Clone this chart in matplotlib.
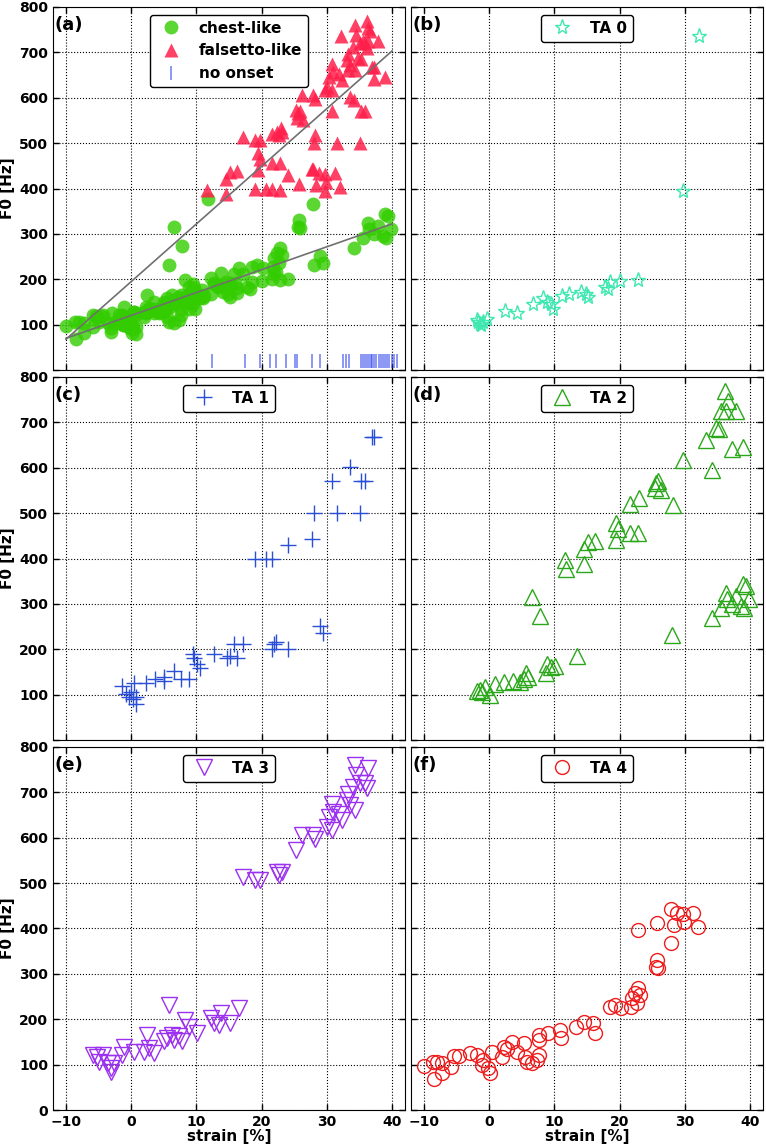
import numpy as np
import matplotlib.pyplot as plt

plt.rcParams['font.family'] = ['DejaVu Sans']
plt.rcParams['font.weight'] = 'bold'
plt.rcParams['axes.labelweight'] = 'bold'
plt.rcParams['font.size'] = 10

# ---- data: strain [%], F0 [Hz], register (c = chest-like, f = falsetto-like)
ta0_strain = [32.2, 29.7, -1.9, -1.4, -0.9, -0.4, -1.2, -1.7, 2.4, 4.3, 6.7, 8.3, 8.8,
              9.8, 9.5, 11.1, 12.3, 14.1, 14.9, 15.2, 17.7, 18.5, 18.2, 20.0, 22.8]
ta0_f0 = [736, 394, 110, 102, 106, 113, 99, 106, 130, 126, 146, 159, 150,
          135, 146, 164, 168, 172, 168, 161, 183, 194, 179, 197, 199]
ta0_reg = "ff" + "ccccccccccccccccccccccc"

ta1_strain = [-1.35, -0.8, -0.3, 0.2, -0.05, 0.7, 0.8, 0.4, 2.2, 3.7, 5.0, 5.0, 6.5, 7.6,
              8.8, 9.4, 9.6, 10.1, 10.5, 12.7, 14.7, 15.2, 15.7, 16.2, 17.1, 19.0, 20.6,
              21.6, 21.6, 21.9, 22.2, 24.0, 24.0, 27.7, 28.0, 28.9, 29.4, 30.8, 31.6, 33.5,
              35.1, 35.3, 35.8, 37.0, 37.3]
ta1_f0 = [119, 102, 95, 91, 106, 95, 80, 126, 126, 135, 139, 131, 153, 135,
          134, 189, 180, 168, 159, 189, 180, 186, 212, 180, 212, 399, 399,
          399, 201, 212, 215, 429, 201, 444, 501, 251, 236, 571, 501, 601,
          501, 571, 571, 667, 667]
ta1_reg = "ccccccccccccccccccccccccc" + "fff" + "ccc" + "f" + "c" + "ff" + "cc" + "ffffffff"

ta2_strain = [36.1, 36.6, 35.6, 36.3, 37.9, 34.8, 35.2, 33.2, 29.7, 37.3, 38.9, 34.2,
              25.6, 25.9, 25.5, 26.3, 28.2, 21.6, 22.9, 19.4, 19.7, 19.4, 21.6, 22.8,
              15.2, 16.2, 14.6, 11.6, 11.8, 14.6, 6.6, 7.8, 13.4, 10.1, 8.8, 8.7, 9.5,
              5.7, 5.4, 5.9, 4.7, 3.7, 2.2, 0.9, 0.05, -0.6, -1.4, -1.9, -1.1, 28.1,
              34.2, 35.6, 36.3, 37.3, 37.9, 38.6, 38.9, 39.4, 39.8, 39.1, 36.4]
ta2_f0 = [770, 746, 724, 726, 726, 687, 685, 662, 618, 641, 646, 595,
          567, 570, 556, 551, 517, 521, 534, 479, 464, 441, 456, 456,
          437, 439, 420, 397, 376, 387, 316, 274, 186, 164, 168, 148, 161,
          148, 135, 139, 128, 131, 128, 124, 99, 117, 111, 107, 106, 232,
          270, 292, 325, 300, 318, 296, 344, 340, 311, 292, 311]
ta2_reg = "ffffffffffffffffffffffffffff" + "c" + "f" + "ccccccccccccccccccccccccccccccc"

ta3_strain = [34.3, 34.5, 36.3, 34.0, 35.1, 35.8, 36.1, 33.3, 33.1, 33.5, 34.3, 30.8,
              31.0, 31.8, 32.4, 30.3, 30.0, 30.8, 26.2, 27.9, 28.2, 25.2, 22.4, 23.2,
              22.7, 17.2, 19.0, 19.8,
              5.8, 8.3, 8.8, 10.1, 12.2, 13.7, 13.4, 15.2, 16.5, 12.7, 2.4, -1.1, -1.4,
              0.4, 1.9, 3.5, 2.7, 5.0, 5.5, 6.3, 6.5, 7.3, 7.8, -5.9, -4.9, -4.4, -3.6,
              -3.1, -2.6, -5.2, -3.1]
ta3_f0 = [760, 738, 753, 712, 720, 720, 709, 697, 683, 672, 661, 675,
          657, 653, 639, 646, 624, 617, 606, 606, 598, 573, 525, 525,
          518, 514, 507, 507,
          231, 198, 184, 169, 202, 213, 187, 191, 224, 191, 165, 139, 121,
          128, 128, 125, 136, 151, 158, 165, 154, 162, 151, 121, 106, 121, 103,
          92, 103, 117, 84]
ta3_reg = "ffffffffffffffffffffffffffff" + "ccccccccccccccccccccccccccccccc"

ta4_strain = [27.9, 28.8, 29.7, 31.2, 32.1, 29.9, 28.4, 25.8, 22.8,
              27.9, 25.8, 25.6, 25.9, 22.8, 22.3, 23.1, 21.9, 22.6, 21.8, 18.6, 19.3,
              20.2, 14.5, 15.9, 16.2, 13.3, 10.9, 11.0, 9.0, 7.6, 7.6, 7.7, 7.3, 6.5,
              5.8, 5.5, 5.3, 4.2, 3.5, 2.7, 2.2, 1.9, 0.4, 0.05, -0.2, -1.1, -1.0,
              -1.9, -3.0, -4.7, -5.4, -5.9, -7.3, -7.3, -8.5, -8.7, -10.0, -8.0]
ta4_f0 = [442, 435, 433, 435, 404, 415, 407, 411, 396,
          367, 330, 316, 312, 268, 257, 253, 246, 235, 228, 228, 231,
          224, 195, 191, 169, 184, 176, 159, 169, 165, 154, 122, 110, 103,
          106, 117, 148, 128, 149, 135, 139, 117, 128, 81, 92, 99, 110,
          121, 126, 119, 119, 95, 81, 103, 68, 106, 97, 106]
ta4_reg = "fffffffff" + "ccccccccccccccccccccccccccccccccccccccccccccccccc"

no_onset_strain = [12.4, 17.5, 19.8, 21.3, 22.2, 23.7, 25.1, 25.5, 27.7, 29.0, 32.5, 32.9,
                   33.4, 35.2, 35.5, 35.8, 36.1, 36.4, 36.8, 37.0, 37.3, 37.6, 38.0,
                   38.3, 38.6, 39.0, 39.3, 39.6, 40.0, 40.3, 40.7]
no_onset_f0 = 20

# linear fits (slope, intercept)
fit_x = [-10, 40]
fit_chest = (5.04, 120.4)
fit_falsetto = (12.7, 195.0)

ta_names = ['TA 0', 'TA 1', 'TA 2', 'TA 3', 'TA 4']
ta_strain = [ta0_strain, ta1_strain, ta2_strain, ta3_strain, ta4_strain]
ta_f0 = [ta0_f0, ta1_f0, ta2_f0, ta3_f0, ta4_f0]
ta_reg = [ta0_reg, ta1_reg, ta2_reg, ta3_reg, ta4_reg]
ta_marker = ['*', '+', '^', 'v', 'o']
ta_size = [11, 11, 11, 11, 10]
ta_color = ['#3ee8b0', '#2a4fd6', '#2aa81a', '#9b30f0', '#ee1c1c']
panel_tags = ['(a)', '(b)', '(c)', '(d)', '(e)', '(f)']

xticks = [-10, 0, 10, 20, 30, 40]
yticks = [0, 100, 200, 300, 400, 500, 600, 700, 800]

for s, f, r in zip(ta_strain, ta_f0, ta_reg):
    assert len(s) == len(f) == len(r)

all_x = np.concatenate([np.array(s) for s in ta_strain])
all_y = np.concatenate([np.array(f) for f in ta_f0])
all_r = np.array(list(''.join(ta_reg)))

fig, axes = plt.subplots(3, 2, figsize=(7.66, 11.46), dpi=100)
fig.subplots_adjust(left=0.0692, right=0.9961, bottom=0.0314, top=0.9939,
                    wspace=0.017, hspace=0.019)
axs = axes.ravel()


def legend(ax):
    leg = ax.legend(loc='upper center', numpoints=1, fontsize=11, fancybox=True,
                    framealpha=1, edgecolor='k', borderaxespad=0.5)
    leg.get_frame().set_linewidth(1.0)


# panel (a): all data by register
ax = axs[0]
ch = all_r == 'c'
ax.plot(all_x[ch], all_y[ch], 'o', color='#33cc00', alpha=0.8, mec='none', ms=10,
        label='chest-like')
ax.plot(all_x[~ch], all_y[~ch], '^', color='#ff1f4b', alpha=0.85, mec='none', ms=10,
        label='falsetto-like')
ax.plot(no_onset_strain, [no_onset_f0] * len(no_onset_strain), '|', color='#1f35e8',
        alpha=0.6, ms=10, mew=1.2, label='no onset')
fx = np.array(fit_x)
ax.plot(fx, fit_chest[0] * fx + fit_chest[1], color='#707070', lw=1.2)
ax.plot(fx, fit_falsetto[0] * fx + fit_falsetto[1], color='#707070', lw=1.2)
legend(ax)

# panels (b)-(f): one TA level each
for i in range(5):
    ax = axs[i + 1]
    if ta_marker[i] == '+':
        ax.plot(ta_strain[i], ta_f0[i], '+', color=ta_color[i], ms=ta_size[i], mew=1.0,
                label=ta_names[i])
    else:
        ax.plot(ta_strain[i], ta_f0[i], ta_marker[i], mfc='none', mec=ta_color[i],
                ms=ta_size[i], mew=1.0, linestyle='none', label=ta_names[i])
    legend(ax)

for k, ax in enumerate(axs):
    row, col = divmod(k, 2)
    ax.set_xlim(-12, 42)
    ax.set_ylim(0, 800)
    ax.set_xticks(xticks)
    ax.set_yticks(yticks)
    ax.set_axisbelow(True)
    ax.grid(True, linestyle=':', color='k', linewidth=0.8)
    ax.tick_params(direction='in', top=True, right=True, length=4, width=1,
                   labelsize=10)
    if col == 1:
        ax.tick_params(labelleft=False)
    else:
        ax.set_ylabel('F0 [Hz]', fontsize=11, labelpad=3)
        if row < 2:
            ax.set_yticklabels(['' if t == 0 else str(t) for t in yticks])
    if row < 2:
        ax.tick_params(labelbottom=False)
    else:
        ax.set_xlabel('strain [%]', fontsize=11, labelpad=0)
    ax.text(0.004, 0.975, panel_tags[k], transform=ax.transAxes, ha='left', va='top',
            fontsize=13, fontweight='bold')

fig.savefig('out.png', dpi=100)
